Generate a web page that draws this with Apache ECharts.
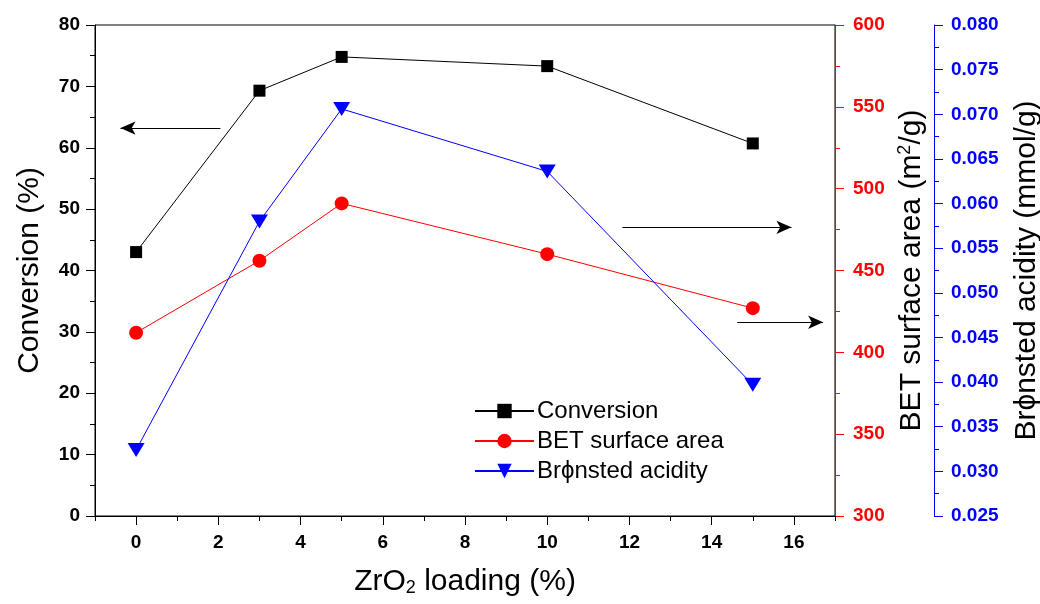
<!DOCTYPE html>
<html>
<head>
<meta charset="utf-8">
<script src="https://cdn.jsdelivr.net/npm/echarts@6/dist/echarts.min.js"></script>
<style>
  html, body { margin: 0; padding: 0; background: #fff; }
  #chart { width: 1040px; height: 604px; }
</style>
</head>
<body>
<div id="chart"></div>
<script>
// ZrO2 loading (%) for each catalyst
const loading = [0, 3, 5, 10, 15];
// Conversion (%)
const conversion = [43, 69.3, 74.8, 73.3, 60.7];
// BET surface area (m2/g)
const betArea = [412, 456, 491, 460, 427];
// Brønsted acidity (mmol/g)
const bronsted = [0.0324, 0.058, 0.0706, 0.0636, 0.0397];
// labelled x ticks
const xTicks = [0, 2, 4, 6, 8, 10, 12, 14, 16];

const FONT = '"Liberation Sans", Arial, sans-serif';
const pairs = ys => loading.map((x, i) => [x, ys[i]]);

const tickLabel = color => ({
  color, fontFamily: FONT, fontWeight: 'bold', fontSize: 19
});
const nameStyle = {
  color: '#000', fontFamily: FONT, fontSize: 30,
  rich: {
    sup: { fontFamily: FONT, fontSize: 18, verticalAlign: 'top', padding: [0, 0, 14, 0] },
    sub: { fontFamily: FONT, fontSize: 18, verticalAlign: 'bottom', padding: [12, 0, 0, 0] }
  }
};
const arrowLine = (from, to) => ({
  silent: true, symbol: ['none', 'arrow'], symbolSize: [10, 15],
  label: { show: false },
  lineStyle: { color: '#000', width: 1.2, type: 'solid' },
  data: [[{ coord: from }, { coord: to }]]
});

const chart = echarts.init(document.getElementById('chart'), null, { renderer: 'canvas' });

chart.setOption({
  backgroundColor: '#fff',
  animation: false,
  grid: {
    left: 95, right: 205, top: 25, bottom: 88,
    outerBoundsMode: 'none', containLabel: false,
    show: true, borderColor: '#000', borderWidth: 1
  },
  legend: {
    orient: 'vertical',
    left: 469, top: 394,
    itemWidth: 59, itemHeight: 18, itemGap: 6,
    textStyle: { fontFamily: FONT, fontSize: 24, color: '#000', padding: [0, 0, 0, -2] },
    data: ['Conversion', 'BET surface area', 'Brϕnsted acidity']
  },
  xAxis: [
    {
      type: 'value', min: -1, max: 17, interval: 1,
      name: 'ZrO{sub|2} loading (%)', nameLocation: 'middle', nameGap: 51,
      nameTextStyle: nameStyle,
      axisLine: { onZero: false, lineStyle: { color: '#000', width: 1 } },
      axisTick: { customValues: xTicks, length: 9, lineStyle: { color: '#000' } },
      axisLabel: { customValues: xTicks, margin: 17, ...tickLabel('#000') },
      splitLine: { show: false }
    },
    {
      // short ticks at the odd values
      type: 'value', min: -1, max: 17, interval: 1, position: 'bottom',
      axisLine: { show: false, onZero: false },
      axisTick: { length: 5, lineStyle: { color: '#000' } },
      axisLabel: { show: false },
      splitLine: { show: false }
    }
  ],
  yAxis: [
    {
      type: 'value', min: 0, max: 80, interval: 10, position: 'left',
      name: 'Conversion (%)', nameLocation: 'middle', nameGap: 50,
      nameTextStyle: nameStyle,
      axisLine: { show: true, onZero: false, lineStyle: { color: '#000' } },
      axisTick: { show: true, length: 9, lineStyle: { color: '#000' } },
      minorTick: { show: true, splitNumber: 2, length: 5, lineStyle: { color: '#000' } },
      axisLabel: { margin: 15, ...tickLabel('#000') },
      splitLine: { show: false }
    },
    {
      type: 'value', min: 300, max: 600, interval: 50, position: 'right',
      name: 'BET surface area (m{sup|2}/g)', nameLocation: 'middle', nameGap: 60,
      nameTextStyle: nameStyle,
      axisLine: { show: true, onZero: false, lineStyle: { color: '#ff0000' } },
      axisTick: { show: true, length: 9, lineStyle: { color: '#ff0000' } },
      minorTick: { show: true, splitNumber: 2, length: 5, lineStyle: { color: '#ff0000' } },
      axisLabel: { margin: 18, ...tickLabel('#ff0000') },
      splitLine: { show: false }
    },
    {
      type: 'value', min: 0.025, max: 0.080, interval: 0.005, position: 'right', offset: 99,
      name: 'Brϕnsted acidity (mmol/g)', nameLocation: 'middle', nameGap: 78,
      nameTextStyle: nameStyle,
      axisLine: { show: true, onZero: false, lineStyle: { color: '#0000ff' } },
      axisTick: { show: true, length: 9, lineStyle: { color: '#0000ff' } },
      minorTick: { show: true, splitNumber: 2, length: 5, lineStyle: { color: '#0000ff' } },
      axisLabel: { margin: 17, formatter: v => v.toFixed(3), ...tickLabel('#0000ff') },
      splitLine: { show: false }
    }
  ],
  series: [
    {
      name: 'Conversion', type: 'line', xAxisIndex: 0, yAxisIndex: 0,
      data: pairs(conversion),
      symbol: 'rect', symbolSize: 12,
      itemStyle: { color: '#000' },
      lineStyle: { color: '#000', width: 1 },
      markLine: arrowLine([2.05, 63.2], [-0.38, 63.2])
    },
    {
      name: 'BET surface area', type: 'line', xAxisIndex: 0, yAxisIndex: 1,
      data: pairs(betArea),
      symbol: 'circle', symbolSize: 14,
      itemStyle: { color: '#ff0000' },
      lineStyle: { color: '#ff0000', width: 1 },
      markLine: arrowLine([11.83, 476.4], [15.94, 476.4])
    },
    {
      name: 'Brϕnsted acidity', type: 'line', xAxisIndex: 0, yAxisIndex: 2,
      data: pairs(bronsted),
      symbol: 'triangle', symbolRotate: 180, symbolSize: [17, 14],
      itemStyle: { color: '#0000ff' },
      lineStyle: { color: '#0000ff', width: 1 },
      markLine: arrowLine([14.62, 0.0467], [16.71, 0.0467])
    }
  ]
});
</script>
</body>
</html>
